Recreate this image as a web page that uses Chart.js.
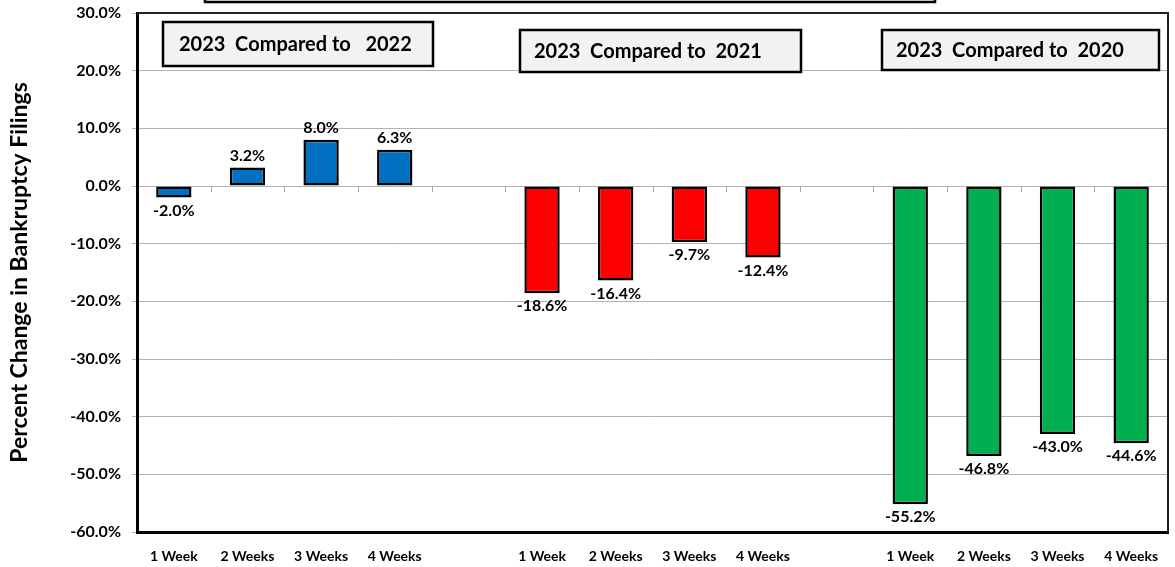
<!DOCTYPE html>
<html>
<head>
<meta charset="utf-8">
<script src="https://cdn.jsdelivr.net/npm/chart.js@4.4.1/dist/chart.umd.min.js"></script>
<style>
  html, body { margin: 0; padding: 0; background: #fff; }
  #wrap { width: 1175px; height: 567px; position: relative; }
</style>
</head>
<body>
<div id="wrap"><canvas id="chart"></canvas></div>
<script>
// categories: 4 periods per comparison, blank slot between groups
var periods = ["1 Week", "2 Weeks", "3 Weeks", "4 Weeks"];
var labels = periods.concat([""], periods, [""], periods);

// percent change in bankruptcy filings
var vs2022 = [-2.0, 3.2, 8.0, 6.3];
var vs2021 = [-18.6, -16.4, -9.7, -12.4];
var vs2020 = [-55.2, -46.8, -43.0, -44.6];

var yTicks = [30, 20, 10, 0, -10, -20, -30, -40, -50, -60];
var boxTexts = ["2023  Compared to   2022", "2023  Compared to  2021", "2023  Compared to  2020"];

var FONT = "Lato, 'Open Sans', sans-serif";

function pad(before, vals, after) {
  var out = [];
  for (var i = 0; i < before; i++) out.push(null);
  out = out.concat(vals);
  for (var j = 0; j < after; j++) out.push(null);
  return out;
}

var barLabels = {
  id: "barLabels",
  afterDatasetsDraw: function (chart) {
    var ctx = chart.ctx;
    ctx.save();
    ctx.font = "bold 16px " + FONT;
    ctx.fillStyle = "#000";
    ctx.textAlign = "center";
    chart.data.datasets.forEach(function (ds, i) {
      chart.getDatasetMeta(i).data.forEach(function (bar, j) {
        var v = ds.data[j];
        if (v === null || v === undefined) return;
        if (v >= 0) {
          ctx.textBaseline = "bottom";
          ctx.fillText(v.toFixed(1) + "%", bar.x, bar.y - 4);
        } else {
          ctx.textBaseline = "top";
          ctx.fillText(v.toFixed(1) + "%", bar.x, bar.y + 5);
        }
      });
    });
    ctx.restore();
  },
};

var frame = {
  id: "frame",
  beforeDatasetsDraw: function (chart) {
    var ctx = chart.ctx;
    var a = chart.chartArea;
    var y = chart.scales.y;
    ctx.save();
    // top and right border of the plot area
    ctx.strokeStyle = "#222";
    ctx.lineWidth = 2;
    ctx.beginPath();
    ctx.moveTo(a.left, a.top);
    ctx.lineTo(a.right, a.top);
    ctx.lineTo(a.right, a.bottom);
    ctx.stroke();
    // small tick marks on the zero line between categories
    var y0 = y.getPixelForValue(0);
    var step = (a.right - a.left) / labels.length;
    ctx.strokeStyle = "#a6a6a6";
    ctx.lineWidth = 1;
    ctx.beginPath();
    for (var i = 1; i < labels.length; i++) {
      var px = Math.round(a.left + step * i) + 0.5;
      ctx.moveTo(px, y0);
      ctx.lineTo(px, y0 + 6);
    }
    ctx.stroke();
    ctx.restore();
  },
  afterDraw: function (chart) {
    var ctx = chart.ctx;
    ctx.save();
    // title box cut off at the top
    ctx.strokeStyle = "#000";
    ctx.lineWidth = 2.5;
    ctx.strokeRect(205, -30, 730, 32);
    // comparison boxes
    var boxes = [
      [163, 22, 270, 44],
      [520, 30, 281, 42],
      [882, 30, 277, 40],
    ];
    ctx.font = "bold 20px " + FONT;
    ctx.textBaseline = "middle";
    ctx.textAlign = "left";
    boxes.forEach(function (b, i) {
      ctx.fillStyle = "#f2f2f2";
      ctx.fillRect(b[0], b[1], b[2], b[3]);
      ctx.strokeStyle = "#000";
      ctx.lineWidth = 2.5;
      ctx.strokeRect(b[0], b[1], b[2], b[3]);
      ctx.fillStyle = "#000";
      ctx.fillText(boxTexts[i], b[0] + (i === 0 ? 16 : 14), b[1] + b[3] / 2 + 1);
    });
    ctx.restore();
  },
};

new Chart(document.getElementById("chart"), {
  type: "bar",
  data: {
    labels: labels,
    datasets: [
      { label: "2023 vs 2022", data: pad(0, vs2022, 10), backgroundColor: "#0070c0" },
      { label: "2023 vs 2021", data: pad(5, vs2021, 5), backgroundColor: "#ff0000" },
      { label: "2023 vs 2020", data: pad(10, vs2020, 0), backgroundColor: "#00b050" },
    ].map(function (d) {
      d.borderColor = "#000";
      d.borderWidth = 2.5;
      d.borderSkipped = false;
      d.grouped = false;
      d.barPercentage = 0.48;
      d.categoryPercentage = 1;
      return d;
    }),
  },
  options: {
    responsive: true,
    maintainAspectRatio: false,
    animation: false,
    layout: { padding: { left: 0, top: 13, right: 7, bottom: 0 } },
    plugins: {
      legend: { display: false },
      tooltip: { enabled: false },
    },
    scales: {
      x: {
        grid: { display: false },
        border: { display: true, color: "#000", width: 3 },
        ticks: {
          color: "#000",
          font: { family: FONT, size: 14, weight: "bold" },
          padding: 8,
          maxRotation: 0,
          autoSkip: false,
        },
        afterFit: function (s) {
          s.height = 35;
          s.paddingLeft = 0;
          s.paddingRight = 0;
        },
      },
      y: {
        min: -60,
        max: 30,
        afterBuildTicks: function (s) {
          s.ticks = yTicks.map(function (v) { return { value: v }; });
        },
        grid: { color: "#b3b3b3", lineWidth: 1, tickLength: 5 },
        border: { display: true, color: "#000", width: 3 },
        ticks: {
          color: "#000",
          font: { family: FONT, size: 16, weight: "bold" },
          padding: 11,
          callback: function (v) { return v.toFixed(1) + "%"; },
        },
        title: {
          display: true,
          text: "Percent Change in Bankruptcy Filings",
          color: "#000",
          font: { family: FONT, size: 23, weight: "bold" },
          padding: { top: 6, bottom: 8 },
        },
        afterFit: function (s) {
          s.width = 137;
          s.paddingTop = 0;
          s.paddingBottom = 0;
        },
      },
    },
  },
  plugins: [frame, barLabels],
});
</script>
</body>
</html>
